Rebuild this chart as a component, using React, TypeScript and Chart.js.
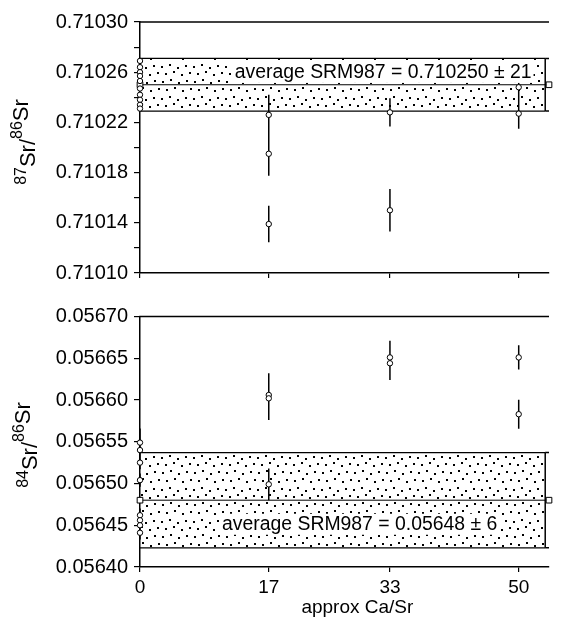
import React, { useEffect, useRef } from 'react';
import { Chart, registerables } from 'chart.js';
Chart.register(...registerables);

const FONT = "'Liberation Sans', Arial, Helvetica, sans-serif";

// shared x axis (approx Ca/Sr)
const xTickValues = [0, 17, 33, 50];
const xTickLabels = ['0', '17', '33', '50'];
const xMin = 0;
const xMax = 54;
const bandEndX = 53.5;
const meanSquareX = [0, 54];
const xTitle = 'approx Ca/Sr';
const xTitleAt = 28.7;

// ---- top panel: 87Sr/86Sr ----
const topYTickValues = [0.7101, 0.71012, 0.71014, 0.71016, 0.71018, 0.7102, 0.71022, 0.71024, 0.71026, 0.71028, 0.7103];
const topYTickLabels = ['0.71010', '', '0.71014', '', '0.71018', '', '0.71022', '', '0.71026', '', '0.71030'];
const topStdY = [0.710269, 0.710264, 0.71026, 0.710257, 0.710253, 0.710247, 0.710242, 0.710238, 0.710234, 0.710231];
const topStdErr = [0, 0, 0, 0, 0, 0, 0, 0, 0, 0];
const topSampleX = [17, 17, 17, 33, 33, 50, 50];
const topSampleY = [0.710226, 0.710195, 0.710139, 0.710228, 0.71015, 0.710248, 0.710227];
const topSampleErr = [0.000016, 0.0000175, 0.0000145, 0.0000112, 0.0000169, 0.0000096, 0.000012];
const topMean = 0.71025;
const topMeanErr = 0.000021;
const topNoteText = 'average SRM987 = 0.710250 ± 21';
const topNoteAt = [32.1, 0.710261];

// ---- bottom panel: 84Sr/86Sr ----
const botYTickValues = [0.0564, 0.05645, 0.0565, 0.05655, 0.0566, 0.05665, 0.0567];
const botYTickLabels = ['0.05640', '0.05645', '0.05650', '0.05655', '0.05660', '0.05665', '0.05670'];
const botStdY = [0.056549, 0.05654, 0.056525, 0.056504, 0.056462, 0.056456, 0.05645, 0.056441];
const botStdErr = [0.000017, 0.000008, 0.000008, 0.000008, 0.000008, 0.000008, 0.000008, 0.000008];
const botSampleX = [17, 17, 17, 33, 33, 50, 50];
const botSampleY = [0.056606, 0.056602, 0.056499, 0.056651, 0.056644, 0.056651, 0.056583];
const botSampleErr = [0.000026, 0.000026, 0.000019, 0.00002, 0.00002, 0.0000145, 0.0000174];
const botMean = 0.05648;
const botMeanErr = 0.000057;
const botNoteText = 'average SRM987 = 0.05648 ± 6';
const botNoteAt = [29, 0.056453];

function makeDots(): CanvasPattern | string {
  const c = document.createElement('canvas');
  c.width = 32;
  c.height = 32;
  const g = c.getContext('2d');
  if (!g) return '#ccc';
  g.fillStyle = '#000';
  const pts = [
    [1, 2], [9, 0], [17, 3], [25, 1],
    [5, 9], [13, 7], [21, 10], [29, 8],
    [2, 17], [10, 15], [18, 18], [26, 16],
    [6, 25], [14, 23], [22, 26], [30, 24],
  ];
  for (const [x, y] of pts) g.fillRect(x, y, 2, 2);
  return g.createPattern(c, 'repeat') || '#ccc';
}

function errSegments(xs: number[], ys: number[], es: number[]) {
  const out: any[] = [];
  for (let i = 0; i < ys.length; i++) {
    if (!es[i]) continue;
    out.push({ x: xs[i], y: ys[i] - es[i] }, { x: xs[i], y: ys[i] + es[i] }, { x: xs[i], y: null });
  }
  return out;
}

type PanelCfg = {
  yTicks: number[];
  yLabels: string[];
  stdY: number[];
  stdErr: number[];
  sx: number[];
  sy: number[];
  se: number[];
  mean: number;
  meanErr: number;
  note: string;
  noteAt: number[];
  num: string;
  showX: boolean;
  padTop: number;
  xHeight: number;
  titleB: number;
  titleCy: number;
};

function drawRatioTitle(ctx: CanvasRenderingContext2D, B: number, cy: number, num: string) {
  const segs = [
    { t: num, size: 16, shift: -2 },
    { t: 'Sr/', size: 22, shift: 7 },
    { t: '86', size: 16, shift: -6 },
    { t: 'Sr', size: 22, shift: 0 },
  ];
  ctx.save();
  ctx.fillStyle = '#000';
  ctx.textAlign = 'left';
  ctx.textBaseline = 'alphabetic';
  let total = 0;
  const widths: number[] = [];
  for (const s of segs) {
    ctx.font = `${s.size}px ${FONT}`;
    const w = ctx.measureText(s.t).width;
    widths.push(w);
    total += w;
  }
  ctx.translate(B, cy);
  ctx.rotate(-Math.PI / 2);
  let x = -total / 2;
  segs.forEach((s, i) => {
    ctx.font = `${s.size}px ${FONT}`;
    ctx.fillText(s.t, x, s.shift);
    x += widths[i];
  });
  ctx.restore();
}

function makeConfig(p: PanelCfg, dots: any): any {
  const ink = '#000';
  const stdX = p.stdY.map(() => 0);
  const datasets: any[] = [
    {
      label: 'samples',
      data: p.sx.map((x, i) => ({ x, y: p.sy[i] })),
      showLine: false,
      clip: false,
      pointStyle: 'circle',
      pointRadius: 2.7,
      pointBorderWidth: 1,
      pointBackgroundColor: '#fff',
      pointBorderColor: ink,
    },
    {
      label: 'SRM987 runs',
      data: p.stdY.map((y) => ({ x: 0, y })),
      showLine: false,
      clip: false,
      pointStyle: 'circle',
      pointRadius: 2.7,
      pointBorderWidth: 1,
      pointBackgroundColor: '#fff',
      pointBorderColor: ink,
    },
    {
      label: 'mean marks',
      data: meanSquareX.map((x) => ({ x, y: p.mean })),
      showLine: false,
      clip: false,
      pointStyle: 'rect',
      pointRadius: 4,
      pointBorderWidth: 1,
      pointBackgroundColor: '#fff',
      pointBorderColor: ink,
    },
    {
      label: 'error bars',
      data: [...errSegments(p.sx, p.sy, p.se), ...errSegments(stdX, p.stdY, p.stdErr)],
      showLine: true,
      clip: false,
      borderColor: ink,
      borderWidth: 1.5,
      pointRadius: 0,
      spanGaps: false,
      fill: false,
    },
    {
      label: 'mean line',
      data: [{ x: 0, y: p.mean }, { x: xMax, y: p.mean }],
      showLine: true,
      borderColor: ink,
      borderWidth: 1,
      pointRadius: 0,
      fill: false,
    },
    {
      label: 'band edge',
      data: [
        { x: bandEndX, y: p.mean - p.meanErr }, { x: bandEndX, y: p.mean + p.meanErr }, { x: bandEndX, y: null },
        { x: bandEndX, y: p.mean + p.meanErr }, { x: xMax, y: p.mean + p.meanErr }, { x: xMax, y: null },
        { x: bandEndX, y: p.mean - p.meanErr }, { x: xMax, y: p.mean - p.meanErr },
      ],
      showLine: true,
      clip: false,
      borderColor: ink,
      borderWidth: 1.5,
      pointRadius: 0,
      spanGaps: false,
      fill: false,
    },
    {
      label: 'band top',
      data: [{ x: 0, y: p.mean + p.meanErr }, { x: bandEndX, y: p.mean + p.meanErr }],
      showLine: true,
      borderColor: ink,
      borderWidth: 1.2,
      pointRadius: 0,
      fill: '+1',
      backgroundColor: dots,
    },
    {
      label: 'band bottom',
      data: [{ x: 0, y: p.mean - p.meanErr }, { x: bandEndX, y: p.mean - p.meanErr }],
      showLine: true,
      borderColor: ink,
      borderWidth: 1.2,
      pointRadius: 0,
      fill: false,
    },
  ];

  const overlay = {
    id: 'overlay',
    afterDatasetsDraw(chart: any) {
      const ctx = chart.ctx as CanvasRenderingContext2D;
      const xs = chart.scales.x;
      const ys = chart.scales.y;
      const cx = xs.getPixelForValue(p.noteAt[0]);
      const cy = ys.getPixelForValue(p.noteAt[1]);
      ctx.save();
      ctx.font = `19.4px ${FONT}`;
      const w = ctx.measureText(p.note).width;
      const base = cy + 7;
      ctx.fillStyle = '#fff';
      ctx.fillRect(cx - w / 2 - 2, base - 16, w + 4, 21);
      ctx.fillStyle = '#000';
      ctx.textAlign = 'left';
      ctx.textBaseline = 'alphabetic';
      ctx.fillText(p.note, cx - w / 2, base);
      ctx.restore();
    },
    afterDraw(chart: any) {
      const ctx = chart.ctx as CanvasRenderingContext2D;
      const a = chart.chartArea;
      ctx.save();
      ctx.strokeStyle = '#000';
      ctx.lineWidth = 1.5;
      ctx.beginPath();
      ctx.moveTo(a.left - 0.75, a.top);
      ctx.lineTo(a.right, a.top);
      ctx.stroke();
      if (p.showX) {
        ctx.font = `19px ${FONT}`;
        ctx.fillStyle = '#000';
        ctx.textAlign = 'center';
        ctx.textBaseline = 'alphabetic';
        ctx.fillText(xTitle, chart.scales.x.getPixelForValue(xTitleAt), chart.scales.x.bottom - 5);
      }
      ctx.restore();
      drawRatioTitle(ctx, p.titleB, p.titleCy, p.num);
    },
  };

  return {
    type: 'line',
    data: { datasets },
    plugins: [overlay],
    options: {
      animation: false,
      responsive: false,
      events: [],
      layout: { padding: { top: p.padTop, right: 16, left: 0, bottom: 0 } },
      plugins: { legend: { display: false }, tooltip: { enabled: false }, title: { display: false } },
      scales: {
        x: {
          type: 'linear',
          min: xMin,
          max: xMax,
          afterBuildTicks: (s: any) => {
            s.ticks = xTickValues.map((v) => ({ value: v }));
          },
          afterFit: (s: any) => {
            s.height = p.xHeight;
          },
          ticks: {
            display: p.showX,
            autoSkip: false,
            maxRotation: 0,
            padding: 4,
            color: '#000',
            font: { family: FONT, size: 19 },
            callback: (_v: any, i: number) => xTickLabels[i],
          },
          grid: { display: true, drawOnChartArea: false, drawTicks: true, tickLength: 5, color: '#000', lineWidth: 1.2 },
          border: { display: true, color: '#000', width: 1.5 },
        },
        y: {
          type: 'linear',
          min: p.yTicks[0],
          max: p.yTicks[p.yTicks.length - 1],
          afterBuildTicks: (s: any) => {
            s.ticks = p.yTicks.map((v) => ({ value: v }));
          },
          afterFit: (s: any) => {
            s.width = 140;
          },
          ticks: {
            autoSkip: false,
            padding: 6,
            color: '#000',
            font: { family: FONT, size: 20 },
            callback: (_v: any, i: number) => p.yLabels[i],
          },
          grid: { display: true, drawOnChartArea: false, drawTicks: true, tickLength: 6, color: '#000', lineWidth: 1.2 },
          border: { display: true, color: '#000', width: 1.5 },
        },
      },
    },
  };
}

export default function App() {
  const topRef = useRef<HTMLCanvasElement | null>(null);
  const botRef = useRef<HTMLCanvasElement | null>(null);

  useEffect(() => {
    const dots = makeDots();
    const charts: Chart[] = [];
    if (topRef.current) {
      charts.push(
        new Chart(
          topRef.current,
          makeConfig(
            {
              yTicks: topYTickValues,
              yLabels: topYTickLabels,
              stdY: topStdY,
              stdErr: topStdErr,
              sx: topSampleX,
              sy: topSampleY,
              se: topSampleErr,
              mean: topMean,
              meanErr: topMeanErr,
              note: topNoteText,
              noteAt: topNoteAt,
              num: '87',
              showX: false,
              padTop: 22,
              xHeight: 22,
              titleB: 28,
              titleCy: 142,
            },
            dots
          )
        )
      );
    }
    if (botRef.current) {
      charts.push(
        new Chart(
          botRef.current,
          makeConfig(
            {
              yTicks: botYTickValues,
              yLabels: botYTickLabels,
              stdY: botStdY,
              stdErr: botStdErr,
              sx: botSampleX,
              sy: botSampleY,
              se: botSampleErr,
              mean: botMean,
              meanErr: botMeanErr,
              note: botNoteText,
              noteAt: botNoteAt,
              num: '84',
              showX: true,
              padTop: 21.5,
              xHeight: 51,
              titleB: 30,
              titleCy: 150,
            },
            dots
          )
        )
      );
    }
    return () => {
      charts.forEach((c) => c.destroy());
    };
  }, []);

  return (
    <div style={{ position: 'absolute', left: 0, top: 0, width: 565, height: 618, background: '#fff' }}>
      <canvas ref={topRef} width={565} height={295} style={{ position: 'absolute', left: 0, top: 0, width: 565, height: 295 }} />
      <canvas ref={botRef} width={565} height={323} style={{ position: 'absolute', left: 0, top: 295, width: 565, height: 323 }} />
    </div>
  );
}
